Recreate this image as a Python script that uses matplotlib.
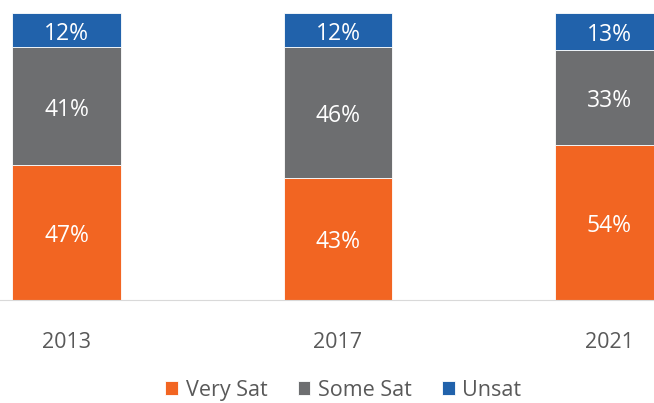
import numpy as np
from matplotlib import pyplot as plt

years = ['2013', '2017', '2021']
very_sat = [47, 43, 54]
some_sat = [41, 46, 33]
unsat = [12, 12, 13]
series_names = ['Very Sat', 'Some Sat', 'Unsat']
colors = ['#F26522', '#6D6E70', '#2162AB']

plt.rcParams['font.family'] = ['Open Sans', 'DejaVu Sans']

# 100% stacked: scale each year to its total
vals = np.array([very_sat, some_sat, unsat], dtype=float)
shares = vals / vals.sum(axis=0)

fig = plt.figure(figsize=(6.54, 4.03), dpi=100)
ax = fig.add_axes([0, 0.2556, 1, 0.7121])
x = np.arange(len(years))

bottom = np.zeros(len(years))
for i in range(len(series_names)):
    bars = ax.bar(x, shares[i], 0.4, bottom=bottom, color=colors[i],
                  edgecolor='white', linewidth=0.6, label=series_names[i])
    for j, b in enumerate(bars):
        ax.text(b.get_x() + b.get_width() / 2, bottom[j] + shares[i][j] / 2 - 0.012,
                '%d%%' % vals[i][j], ha='center', va='center', color='white', fontsize=16.5)
    bottom += shares[i]

ax.set_xlim(-0.245, 2.164)
ax.set_ylim(0, 1)
ax.set_yticks([])
ax.set_xticks(x)
ax.set_xticklabels(years, fontsize=15.5, color='#595959')
ax.tick_params(axis='x', length=0, pad=23)
for s in ['top', 'right', 'left']:
    ax.spines[s].set_visible(False)
ax.spines['bottom'].set_color('#D9D9D9')

fig.legend(loc='center', bbox_to_anchor=(0.525, 0.032), ncol=3, frameon=False,
           fontsize=15.5, labelcolor='#595959', handlelength=0.6, handleheight=0.6,
           handletextpad=0.35, columnspacing=1.4)

fig.savefig('out.png', dpi=100)
